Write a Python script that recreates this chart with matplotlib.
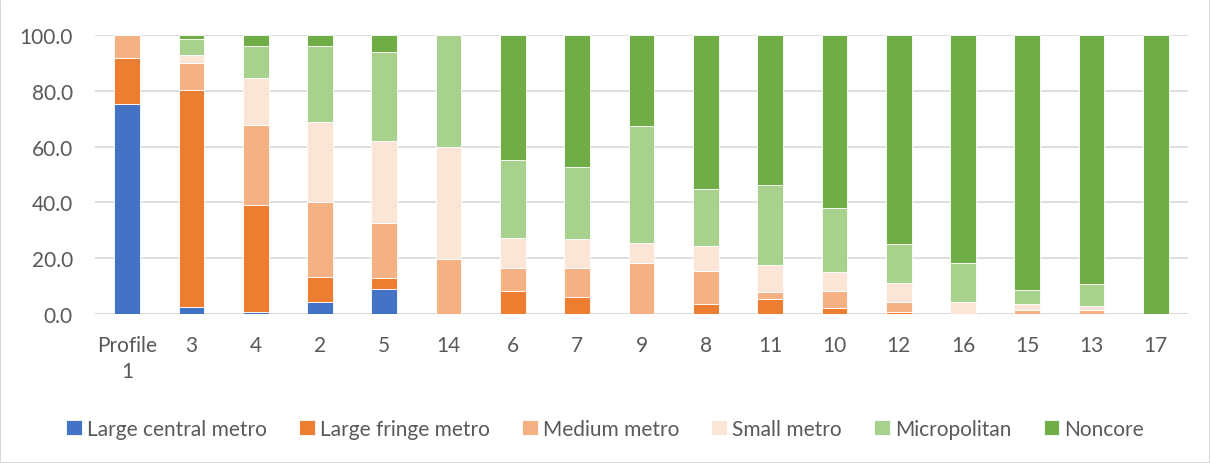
import matplotlib.pyplot as plt
from matplotlib.patches import Rectangle

profiles = ["Profile\n1", "3", "4", "2", "5", "14", "6", "7", "9", "8",
            "11", "10", "12", "16", "15", "13", "17"]

large_central = [75.4, 2.6, 0.7, 4.4, 9.0, 0, 0, 0, 0, 0, 0, 0, 0, 0, 0, 0, 0]
large_fringe = [16.4, 77.8, 38.4, 8.9, 3.9, 0, 8.2, 6.1, 0, 3.5, 5.3, 2.3, 0.6, 0, 0, 0, 0]
medium = [8.2, 9.4, 28.5, 26.7, 19.7, 19.7, 8.3, 10.4, 18.4, 11.8, 2.6, 6.1, 3.6, 0, 1.4, 1.4, 0]
small = [0, 3.0, 17.1, 28.9, 29.5, 40.2, 10.6, 10.4, 7.2, 9.1, 9.7, 6.5, 6.9, 4.2, 2.1, 1.3, 0]
micropolitan = [0, 5.6, 11.2, 27.0, 31.7, 40.1, 28.2, 25.9, 41.8, 20.4, 28.5, 23.0, 14.0, 14.0, 5.1, 7.9, 0]
noncore = [0, 1.6, 4.1, 4.1, 6.2, 0, 44.7, 47.2, 32.6, 55.2, 53.9, 62.1, 74.9, 81.8, 91.4, 89.4, 100]

series = [
    ("Large central metro", large_central, "#4472C4"),
    ("Large fringe metro", large_fringe, "#ED7D31"),
    ("Medium metro", medium, "#F4B183"),
    ("Small metro", small, "#FBE5D6"),
    ("Micropolitan", micropolitan, "#A9D18E"),
    ("Noncore", noncore, "#70AD47"),
]

plt.rcParams['font.family'] = ['Lato', 'DejaVu Sans']

fig = plt.figure(figsize=(12.1, 4.64), dpi=100)
ax = fig.add_axes([95 / 1210, 1 - 315 / 464, 1093 / 1210, 279 / 464])

x = list(range(len(profiles)))
bottom = [0] * len(profiles)
for name, vals, col in series:
    ax.bar(x, vals, 0.4, bottom=bottom, color=col, label=name,
           edgecolor="white", linewidth=0.6)
    bottom = [b + v for b, v in zip(bottom, vals)]

ax.set_xlim(-0.5, len(profiles) - 0.5)
ax.set_ylim(0, 100)
ax.set_yticks([0, 20, 40, 60, 80, 100])
ax.set_yticklabels([f"{v:.1f}" for v in [0, 20, 40, 60, 80, 100]])
ax.set_xticks(x)
ax.set_xticklabels(profiles, linespacing=1.4)
ax.tick_params(length=0, labelsize=15, labelcolor="#595959")
ax.tick_params(axis="x", pad=15)
ax.tick_params(axis="y", pad=16)
ax.grid(axis="y", color="#D9D9D9", linewidth=1.2)
ax.set_axisbelow(True)
for s in ax.spines.values():
    s.set_visible(False)
ax.axhline(0, color="#D9D9D9", linewidth=1.2, zorder=0)

fig.legend(loc="center", bbox_to_anchor=(0.5, 1 - 430 / 464), ncol=6,
           frameon=False, fontsize=15, labelcolor="#595959",
           handlelength=0.75, handleheight=0.75, handletextpad=0.25,
           columnspacing=1.55)

fig.patches.append(Rectangle((0, 0), 1, 1, transform=fig.transFigure,
                             fill=False, edgecolor="#D9D9D9", linewidth=1.5))

fig.savefig("out.png", dpi=100)
